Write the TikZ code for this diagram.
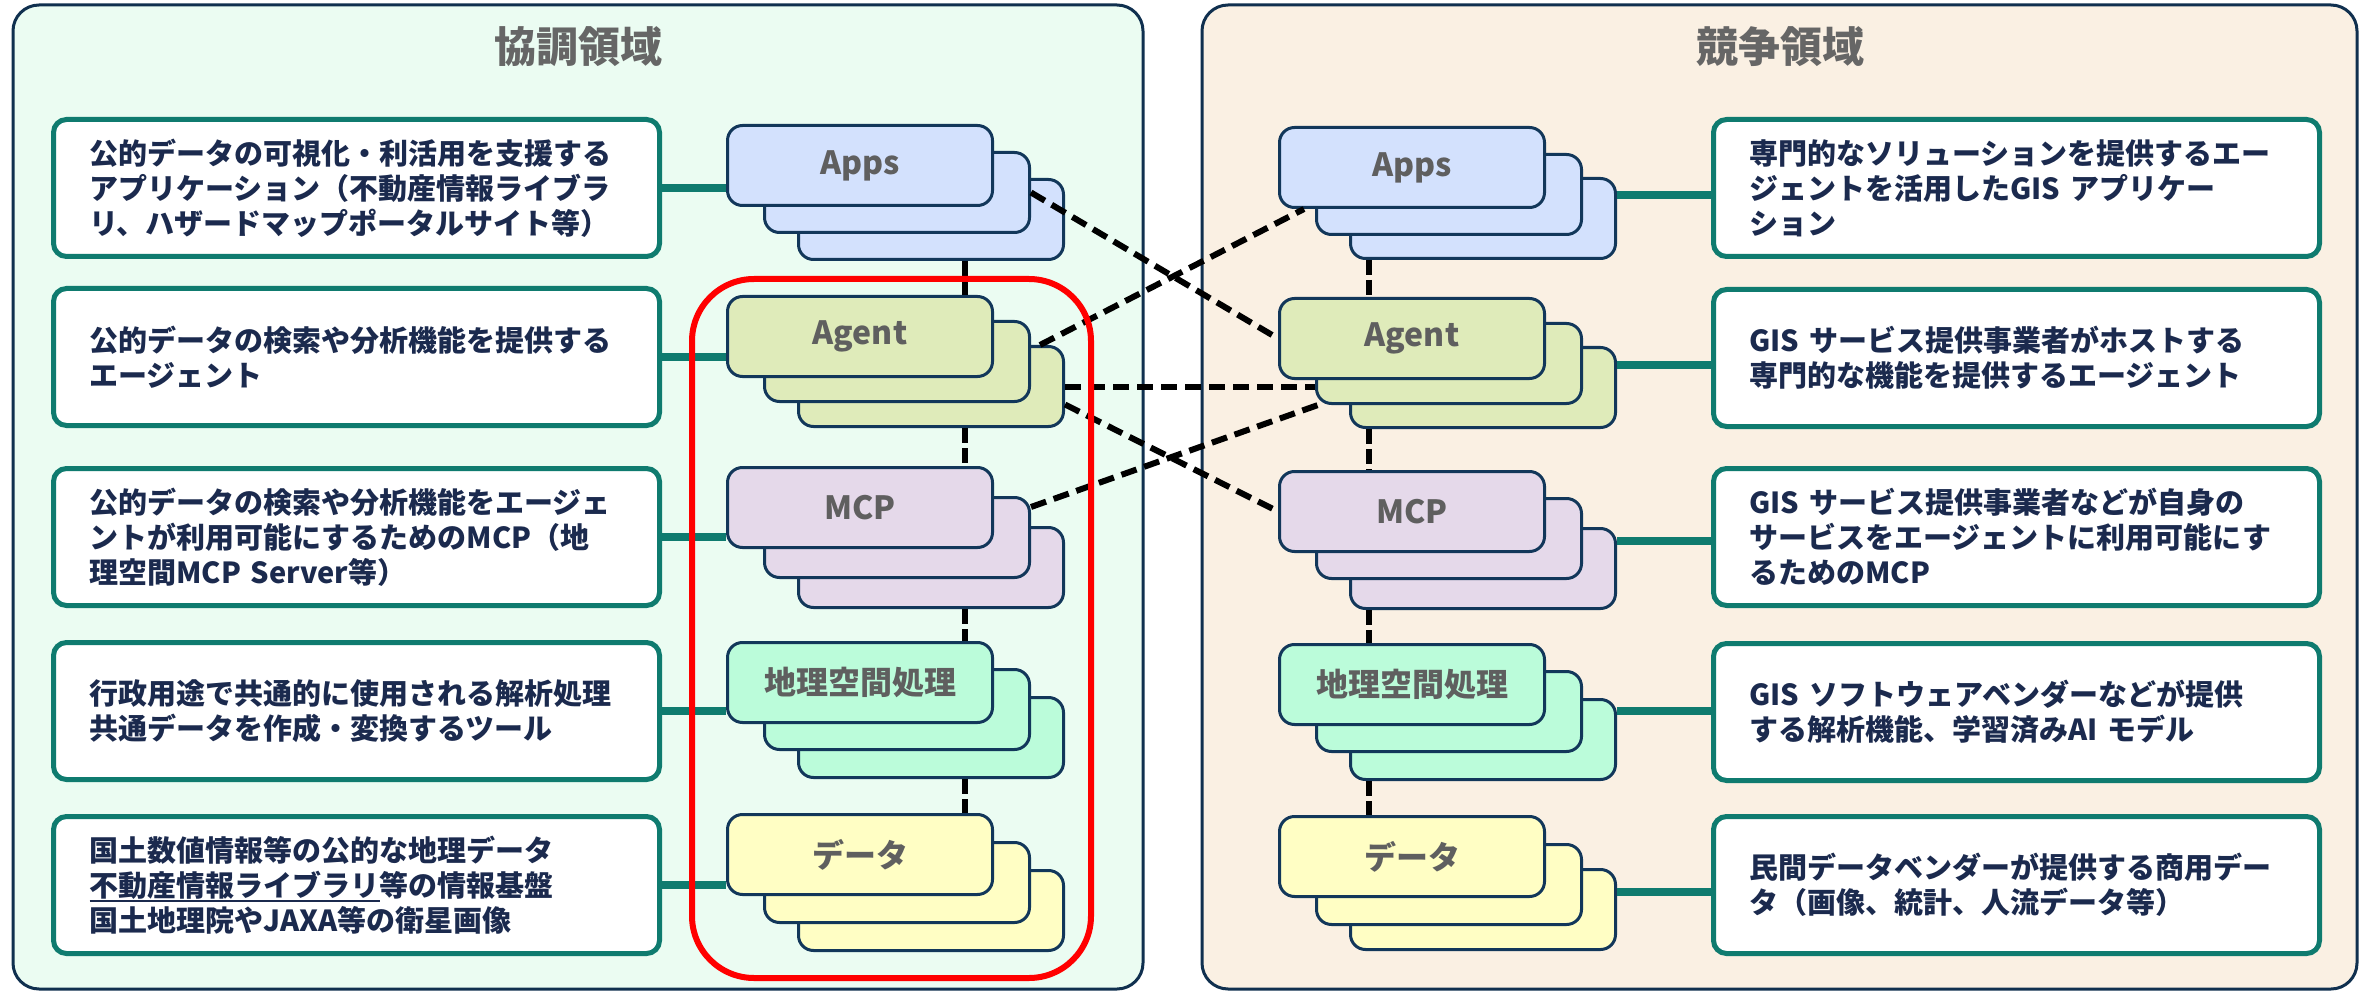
\documentclass[tikz,border=0pt]{standalone}
\usepackage{fontspec}
\setmainfont{Noto Sans CJK JP}
\usetikzlibrary{calc}
\definecolor{panelL}{HTML}{EBFCF2}
\definecolor{panelR}{HTML}{FAF0E3}
\definecolor{panelline}{HTML}{10304F}
\definecolor{tealc}{HTML}{0F7B6F}
\definecolor{navyt}{HTML}{1B2A4E}
\definecolor{boxline}{HTML}{12375A}
\definecolor{lblgray}{HTML}{5F5F5F}
\definecolor{ttlgray}{HTML}{666666}
\definecolor{cApps}{HTML}{D3E1FD}
\definecolor{cAgent}{HTML}{DFEBBA}
\definecolor{cMCP}{HTML}{E5D9EA}
\definecolor{cGeo}{HTML}{BBFCDA}
\definecolor{cData}{HTML}{FFFEC4}
\newcommand\descfnt{\bfseries\fontsize{29}{35}\selectfont}
\newcommand\lyrfnt{\bfseries\fontsize{32}{38}\selectfont}
\newcommand\ttlfnt{\bfseries\fontsize{42}{50}\selectfont}
\newsavebox\ulbox
\newcommand\ulinetext[1]{\leavevmode\sbox\ulbox{#1}\rlap{\color{navyt}\rule[-6pt]{\wd\ulbox}{2.5pt}}\usebox\ulbox}
\newcommand\layerstack[7]{%
  \node[layer, fill=#6] (#13) at (#2+71,#5) {};
  \node[layer, fill=#6] (#12) at (#2+37,#4) {};
  \node[layer, fill=#6] (#11) at (#2,#3) {#7};
}
\begin{document}
\begin{tikzpicture}[x=1pt,y=-1pt,
  panel/.style={draw=panelline, line width=3pt, rounded corners=26pt},
  desc/.style={draw=tealc, fill=white, line width=5pt, rounded corners=13pt, anchor=north west,
    minimum width=606pt, minimum height=137pt, text width=534pt, inner xsep=36pt, inner ysep=0pt,
    align=left, text=navyt, font=\descfnt},
  layer/.style={draw=boxline, line width=3pt, rounded corners=15pt, anchor=north west,
    minimum width=265pt, minimum height=80pt, inner sep=0pt, text=lblgray, font=\lyrfnt},
  ttl/.style={text=ttlgray, font=\ttlfnt, inner sep=0pt},
  tconn/.style={draw=tealc, line width=8pt},
  vdash/.style={draw=black, line width=6pt, dash pattern=on 15pt off 5pt},
  xdash/.style={draw=black, line width=6pt, dash pattern=on 16pt off 8pt},
]
\useasboundingbox (0,0) rectangle (2367,992);
\fill[white] (0,0) rectangle (2367,992);
% panels
\draw[panel, fill=panelL] (13,5) rectangle (1143,989);
\draw[panel, fill=panelR] (1202,5) rectangle (2357,989);
\node[ttl] (t1) at (578,47) {協調領域};
\node[ttl] (t2) at (1780,47) {競争領域};

% description boxes, left
\node[desc] (L1) at (51,117) {公的データの可視化・利活用を支援する\\アプリケーション（不動産情報ライブラ\\リ、ハザードマップポータルサイト等）};
\node[desc] (L2) at (51,286) {公的データの検索や分析機能を提供する\\エージェント};
\node[desc] (L3) at (51,466) {公的データの検索や分析機能をエージェ\\ントが利用可能にするためのMCP（地\\理空間MCP Server等）};
\node[desc] (L4) at (51,640) {行政用途で共通的に使用される解析処理\\共通データを作成・変換するツール};
\node[desc] (L5) at (51,814) {国土数値情報等の公的な地理データ\\\ulinetext{不動産情報ライブラリ}等の情報基盤\\国土地理院やJAXA等の衛星画像};

% description boxes, right
\node[desc] (R1) at (1711,117) {専門的なソリューションを提供するエー\\ジェントを活用したGIS アプリケー\\ション};
\node[desc] (R2) at (1711,287) {GIS サービス提供事業者がホストする\\専門的な機能を提供するエージェント};
\node[desc] (R3) at (1711,466) {GIS サービス提供事業者などが自身の\\サービスをエージェントに利用可能にす\\るためのMCP};
\node[desc] (R4) at (1711,641) {GIS ソフトウェアベンダーなどが提供\\する解析機能、学習済みAI モデル};
\node[desc] (R5) at (1711,814) {民間データベンダーが提供する商用デー\\タ（画像、統計、人流データ等）};

% layer stacks
\layerstack{LApps}{726}{124}{151}{178}{cApps}{Apps}
\layerstack{LAgent}{726}{295}{320}{345}{cAgent}{Agent}
\layerstack{LMCP}{726}{466}{496}{526}{cMCP}{MCP}
\layerstack{LGeo}{726}{641}{668}{696}{cGeo}{地理空間処理}
\layerstack{LData}{726}{813}{841}{869}{cData}{データ}
\layerstack{RApps}{1278}{126}{153}{177}{cApps}{Apps}
\layerstack{RAgent}{1278}{297}{322}{346}{cAgent}{Agent}
\layerstack{RMCP}{1278}{470}{497}{527}{cMCP}{MCP}
\layerstack{RGeo}{1278}{643}{670}{698}{cGeo}{地理空間処理}
\layerstack{RData}{1278}{815}{843}{868}{cData}{データ}

% teal connectors, left
\draw[tconn] (L1.east) -- (L1.east -| LApps1.west);
\draw[tconn] (L2.east) -- (L2.east -| LAgent1.west);
\draw[tconn] (L3.east) -- (L3.east -| LMCP1.west);
\draw[tconn] (L4.east) -- (L4.east -| LGeo1.west);
\draw[tconn] (L5.east) -- (L5.east -| LData1.west);
% teal connectors, right
\coordinate (r1c) at ($(R1.west)+(0,7)$);
\coordinate (r2c) at ($(R2.west)+(0,7)$);
\coordinate (r3c) at ($(R3.west)+(0,4)$);
\coordinate (r4c) at ($(R4.west)+(0,-1)$);
\coordinate (r5c) at ($(R5.west)+(0,7)$);
\draw[tconn] (RApps3.east |- r1c) -- (r1c);
\draw[tconn] (RAgent3.east |- r2c) -- (r2c);
\draw[tconn] (RMCP3.east |- r3c) -- (r3c);
\draw[tconn] (RGeo3.east |- r4c) -- (r4c);
\draw[tconn] (RData3.east |- r5c) -- (r5c);

% vertical dashed links
\coordinate (lx) at (965,0);
\coordinate (rx) at (1369,0);
\draw[vdash] (LApps3.south -| lx) -- (LAgent1.north -| lx);
\draw[vdash] (LAgent3.south -| lx) -- (LMCP1.north -| lx);
\draw[vdash] (LMCP3.south -| lx) -- (LGeo1.north -| lx);
\draw[vdash] (LGeo3.south -| lx) -- (LData1.north -| lx);
\draw[vdash] (RApps3.south -| rx) -- (RAgent1.north -| rx);
\draw[vdash] (RAgent3.south -| rx) -- (RMCP1.north -| rx);
\draw[vdash] (RMCP3.south -| rx) -- (RGeo1.north -| rx);
\draw[vdash] (RGeo3.south -| rx) -- (RData1.north -| rx);

% cross links
\draw[xdash] (LApps2.east) -- (RAgent1.west);
\draw[xdash] ($(LAgent3.north east)+(-25,0)$) -- ($(RApps1.south west)+(26,0)$);
\draw[xdash] (LAgent3.east) -- (LAgent3.east -| RAgent2.west);
\draw[xdash] ($(LAgent3.east)+(0,18)$) -- (RMCP1.west);
\draw[xdash] ($(LMCP2.north east)+(0,11)$) -- ($(RAgent2.south west)+(3,0)$);

% red highlight
\draw[red, line width=6pt, rounded corners=62pt] (692,279) rectangle (1091,978);
\end{tikzpicture}
\end{document}
